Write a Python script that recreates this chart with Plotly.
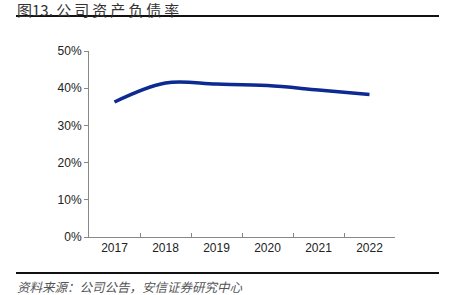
import plotly.graph_objects as go

years = ["2017", "2018", "2019", "2020", "2021", "2022"]
debt_ratio = [0.363, 0.414, 0.411, 0.407, 0.395, 0.383]
y_ticks = [0, 0.1, 0.2, 0.3, 0.4, 0.5]

L, R, T, B = 89, 395, 51, 237
W, H = R - L, B - T

def px(x):
    return (x - L) / W

def py(y):
    return (B - y) / H

THIN = "\u2009"
title_text = "图13. " + THIN.join("公司资产负债率")
source_text = "资料来源：公司公告，安信证券研究中心"

fig = go.Figure()
fig.add_trace(go.Scatter(
    x=years, y=debt_ratio, mode="lines",
    line=dict(color="#0c2a92", width=3.5, shape="spline", smoothing=1.0),
    showlegend=False, hoverinfo="skip",
))

fig.update_layout(
    width=452, height=295,
    margin=dict(l=L, r=452 - R, t=T, b=295 - B),
    paper_bgcolor="white", plot_bgcolor="white",
    font=dict(family="Liberation Sans, Arial, sans-serif", size=12, color="#222"),
    xaxis=dict(
        type="category", range=[-0.5, 5.5],
        showline=True, linecolor="#888", linewidth=1,
        ticks="inside", tickson="boundaries", ticklen=4, tickcolor="#888",
        showgrid=False, zeroline=False,
        tickfont=dict(size=12, color="#222"),
    ),
    yaxis=dict(
        range=[0, 0.5], tickvals=y_ticks, tickformat=".0%",
        showline=True, linecolor="#888", linewidth=1,
        ticks="outside", ticklen=4, tickcolor="#888",
        showgrid=False, zeroline=False,
        tickfont=dict(size=12, color="#222"),
    ),
    shapes=[
        dict(type="line", xref="paper", yref="paper",
             x0=px(16), x1=px(439), y0=py(16), y1=py(16),
             line=dict(color="#111", width=2)),
        dict(type="line", xref="paper", yref="paper",
             x0=px(16), x1=px(439), y0=py(273), y1=py(273),
             line=dict(color="#111", width=2)),
    ],
    annotations=[
        dict(text=title_text, xref="paper", yref="paper",
             x=px(15), y=py(9.5), xanchor="left", yanchor="middle", showarrow=False,
             font=dict(family="Noto Sans CJK SC, sans-serif", size=15, color="#333")),
        dict(text="<i>" + source_text + "</i>", xref="paper", yref="paper",
             x=px(15), y=py(286), xanchor="left", yanchor="middle", showarrow=False,
             font=dict(family="Noto Sans CJK SC, sans-serif", size=12.5, color="#555")),
    ],
)

fig.write_html("out.html")
